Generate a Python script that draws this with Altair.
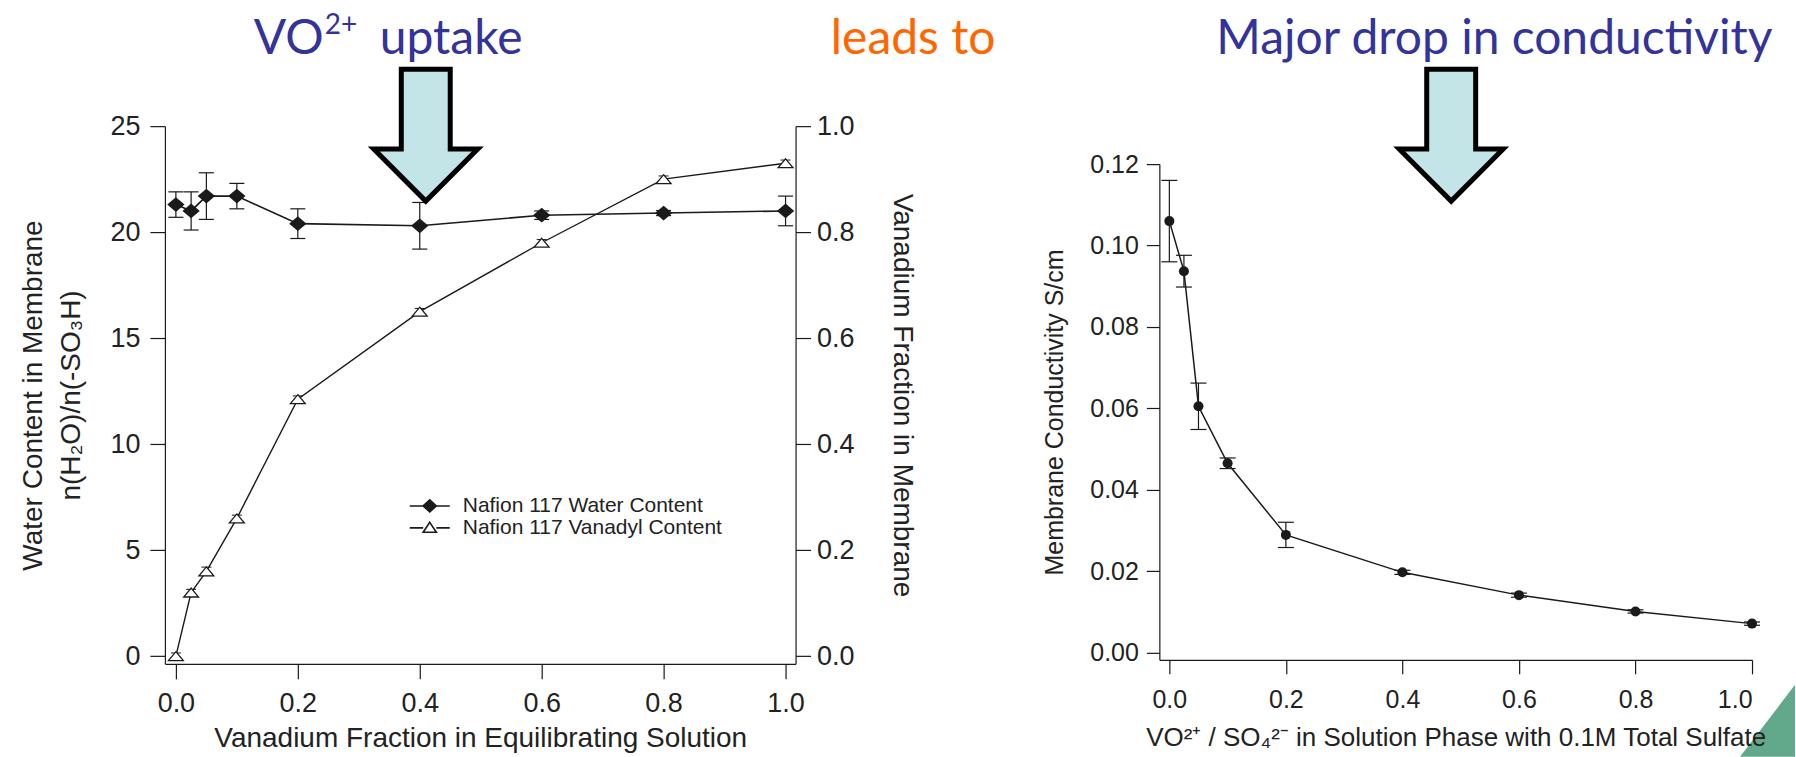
import altair as alt
import pandas as pd

# ---------------- data ----------------
van_fraction = [0.0, 0.025, 0.05, 0.1, 0.2, 0.4, 0.6, 0.8, 1.0]
water_content = [21.3, 21.0, 21.7, 21.7, 20.4, 20.3, 20.8, 20.9, 21.0]
water_err = [0.6, 0.9, 1.1, 0.6, 0.7, 1.1, 0.2, 0.12, 0.7]
vanadyl_content = [0.0, 0.12, 0.16, 0.26, 0.485, 0.65, 0.78, 0.90, 0.93]
vanadyl_err = [0.006, 0.006, 0.008, 0.006, 0.006, 0.006, 0.006, 0.006, 0.006]
series_names = ["Nafion 117 Water Content", "Nafion 117 Vanadyl Content"]

vo_ratio = [0.0, 0.025, 0.05, 0.1, 0.2, 0.4, 0.6, 0.8, 1.0]
conductivity = [0.106, 0.0937, 0.0605, 0.0465, 0.0289, 0.0197, 0.0141, 0.0101, 0.0071]
cond_err = [0.010, 0.0039, 0.0057, 0.0013, 0.0031, 0.0005, 0.0005, 0.0004, 0.0004]

x_ticks = [0.0, 0.2, 0.4, 0.6, 0.8, 1.0]
water_ticks = [0, 5, 10, 15, 20, 25]
vanadyl_ticks = [0.0, 0.2, 0.4, 0.6, 0.8, 1.0]
cond_ticks = [0.0, 0.02, 0.04, 0.06, 0.08, 0.10, 0.12]

slide_titles = ["VO", "2+", "uptake", "leads to", "Major drop in conductivity"]

# ---------------- styling ----------------
FONT = "Liberation Sans"
TFONT = "Lato"
INK = "#1a1a1a"
TXT = "#222222"
BLUE = "#333399"
ORANGE = "#FF6600"
ARROW_FILL = "#C4E5E8"
GREEN = "#62A98B"

DIAMOND = "M-1,0L0,-0.85L1,0L0,0.85Z"
TRIANGLE = "M0,-0.6L1,0.6L-1,0.6Z"
ARROW = "M-0.371,-1L0.371,-1L0.371,0.212L0.788,0.212L0,1L-0.788,0.212L-0.371,0.212Z"
CORNER = "M0.764,-1L0.764,1L-0.764,1Z"
LEG_DIAMOND = "M-1,0L-0.33,0M0.33,0L1,0M-0.33,0L0,-0.3L0.33,0L0,0.3Z"
LEG_TRIANGLE = "M-1,0L-0.33,0M0.33,0L1,0M0,-0.28L0.33,0.22L-0.33,0.22Z"

df_left = pd.DataFrame({
    "x": van_fraction,
    "water": water_content,
    "w_lo": [w - e for w, e in zip(water_content, water_err)],
    "w_hi": [w + e for w, e in zip(water_content, water_err)],
    "van": vanadyl_content,
    "v_lo": [v - e for v, e in zip(vanadyl_content, vanadyl_err)],
    "v_hi": [v + e for v, e in zip(vanadyl_content, vanadyl_err)],
})
df_right = pd.DataFrame({
    "x": vo_ratio,
    "cond": conductivity,
    "c_lo": [c - e for c, e in zip(conductivity, cond_err)],
    "c_hi": [c + e for c, e in zip(conductivity, cond_err)],
})

# ---------------- left panel ----------------
LW, LH = 631, 538
xl_scale = alt.Scale(domain=[-0.018, 1.0164], nice=False, zero=False)
xl_axis = alt.Axis(values=x_ticks, format=".1f", title="Vanadium Fraction in Equilibrating Solution",
                   tickSize=15, labelPadding=12, labelFontSize=27, titleFontSize=28, titlePadding=8)
yw_scale = alt.Scale(domain=[-0.363, 25], nice=False, zero=False)
yw_axis = alt.Axis(values=water_ticks, title=["Water Content in Membrane", "n(H\u2082O)/n(-SO\u2083H)"],
                   tickSize=15, labelPadding=10, labelFontSize=27, titleFontSize=28,
                   titleLineHeight=38, titlePadding=24)
yv_scale = alt.Scale(domain=[-0.0145, 1.0], nice=False, zero=False)
yv_axis = alt.Axis(orient="right", values=vanadyl_ticks, format=".1f", title="Vanadium Fraction in Membrane",
                   tickSize=15, labelPadding=6, labelFontSize=27, titleFontSize=28, titlePadding=33)


def XL():
    return alt.X("x:Q", scale=xl_scale, axis=xl_axis)


def YW(f):
    return alt.Y(f, scale=yw_scale, axis=yw_axis)


def YV(f):
    return alt.Y(f, scale=yv_scale, axis=yv_axis)


bl = alt.Chart(df_left)
water_group = alt.layer(
    bl.mark_line(color=INK, strokeWidth=1.6).encode(x=XL(), y=YW("water:Q")),
    bl.mark_rule(color=INK, strokeWidth=1.2).encode(x=XL(), y=YW("w_lo:Q"), y2="w_hi:Q"),
    bl.transform_fold(["w_lo", "w_hi"], as_=["end", "val"]).mark_point(
        shape="stroke", size=225, color=INK, strokeWidth=1.2, opacity=1).encode(x=XL(), y=YW("val:Q")),
    bl.mark_point(shape=DIAMOND, size=300, filled=True, color=INK, opacity=1).encode(x=XL(), y=YW("water:Q")),
)
van_group = alt.layer(
    bl.mark_line(color=INK, strokeWidth=1.4).encode(x=XL(), y=YV("van:Q")),
    bl.transform_fold(["v_lo", "v_hi"], as_=["end", "val"]).mark_point(
        shape="stroke", size=100, color=INK, strokeWidth=1, opacity=1).encode(x=XL(), y=YV("val:Q")),
    bl.mark_point(shape=TRIANGLE, size=220, filled=True, fill="white", stroke=INK, strokeWidth=1.3,
                  opacity=1).encode(x=XL(), y=YV("van:Q")),
)

legend_layers = []
leg_shapes = [LEG_DIAMOND, LEG_TRIANGLE]
leg_fills = [INK, "white"]
for i, name in enumerate(series_names):
    ld = alt.Chart(pd.DataFrame({"series": [name]}))
    yy = 380 + 22 * i
    legend_layers.append(ld.mark_point(shape=leg_shapes[i], size=1600, filled=True, fill=leg_fills[i],
                                       stroke=INK, strokeWidth=1.6, opacity=1)
                         .encode(x=alt.value(265), y=alt.value(yy)))
    legend_layers.append(ld.mark_text(align="left", baseline="middle", font=FONT, fontSize=21, color=TXT)
                         .encode(text="series:N", x=alt.value(298), y=alt.value(yy)))


def title_text(txt, x, y, size, color, align="left"):
    return alt.Chart(pd.DataFrame({"t": [txt]})).mark_text(
        align=align, baseline="alphabetic", font=TFONT, fontSize=size, color=color
    ).encode(text="t:N", x=alt.value(x), y=alt.value(y))


def arrow(x, y):
    return alt.Chart(pd.DataFrame({"t": ["arrow"]})).mark_point(
        shape=ARROW, size=132 * 132, filled=True, fill=ARROW_FILL, stroke="black", strokeWidth=5, opacity=1
    ).encode(x=alt.value(x), y=alt.value(y))


anchor = alt.Chart(pd.DataFrame({"t": ["anchor"]})).mark_point(
    size=0.01, filled=True, opacity=0).encode(x=alt.value(-164), y=alt.value(-125))

left = alt.layer(
    water_group, van_group, *legend_layers,
    title_text(slide_titles[0], 89, -72, 48, BLUE),
    title_text(slide_titles[1], 160, -92, 28, BLUE),
    title_text(slide_titles[2], 215, -72, 48, BLUE),
    title_text(slide_titles[3], 831, -72, 48, ORANGE, align="right"),
    arrow(261, 9),
    anchor,
).resolve_scale(y="independent").properties(width=LW, height=LH)

# ---------------- right panel ----------------
RW, RH = 593, 534
xr_scale = alt.Scale(domain=[-0.01715, 1.0], nice=False, zero=False)
xr_axis = alt.Axis(values=x_ticks, format=".1f",
                   title="VO\u00b2\u207a / SO\u2084\u00b2\u207b in Solution Phase with 0.1M Total Sulfate",
                   tickSize=14, labelPadding=14, labelFontSize=25, titleFontSize=26, titlePadding=12,
                   zindex=1)
yc_scale = alt.Scale(domain=[-0.0018, 0.12], range=[RH, 38], nice=False, zero=False)
yc_axis = alt.Axis(values=cond_ticks, format=".2f", title="Membrane Conductivity S/cm",
                   tickSize=13, labelPadding=8, labelFontSize=25, titleFontSize=25, titlePadding=22)


def XR():
    return alt.X("x:Q", scale=xr_scale, axis=xr_axis)


def YC(f):
    return alt.Y(f, scale=yc_scale, axis=yc_axis)


br = alt.Chart(df_right)
right = alt.layer(
    alt.Chart(pd.DataFrame({"t": ["corner"]})).mark_point(
        shape=CORNER, size=72 * 72, filled=True, fill=GREEN, strokeWidth=0, opacity=1
    ).encode(x=alt.value(608.5), y=alt.value(595)),
    br.mark_line(color=INK, strokeWidth=1.5).encode(x=XR(), y=YC("cond:Q")),
    br.mark_rule(color=INK, strokeWidth=1.2).encode(x=XR(), y=YC("c_lo:Q"), y2="c_hi:Q"),
    br.transform_fold(["c_lo", "c_hi"], as_=["end", "val"]).mark_point(
        shape="stroke", size=256, color=INK, strokeWidth=1.2, opacity=1).encode(x=XR(), y=YC("val:Q")),
    br.mark_point(shape="circle", size=100, filled=True, color=INK, opacity=1).encode(x=XR(), y=YC("cond:Q")),
    title_text(slide_titles[4], 57, -72, 48, BLUE),
    arrow(292, 9),
).properties(width=RW, height=RH)

chart = alt.hconcat(left, right, spacing=364, bounds="flush").properties(
    padding=0, background="white"
).configure_view(stroke=None).configure_axis(
    domainColor=INK, tickColor=INK, labelColor=TXT, titleColor=TXT,
    labelFont=FONT, titleFont=FONT, titleFontWeight="normal",
    grid=False, domainWidth=1.2, tickWidth=1.2,
)

chart.save("out.html", embed_options={"renderer": "svg", "actions": False})
